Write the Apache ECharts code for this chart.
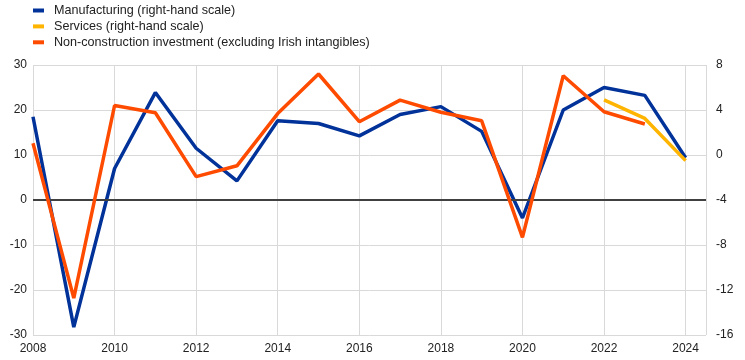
<!DOCTYPE html>
<html>
<head>
<meta charset="utf-8">
<script src="https://cdn.jsdelivr.net/npm/echarts@6/dist/echarts.min.js"></script>
<style>html,body{margin:0;padding:0;background:#fff;}#c{width:745px;height:360px;}</style>
</head>
<body>
<div id="c"></div>
<script>
var years = [2008,2009,2010,2011,2012,2013,2014,2015,2016,2017,2018,2019,2020,2021,2022,2023,2024];
var manufacturing = [3.4,-15.3,-1.2,5.55,0.6,-2.3,3.05,2.8,1.7,3.6,4.3,2.1,-5.6,4.0,6.0,5.3,-0.25];
var services = [null,null,null,null,null,null,null,null,null,null,null,null,null,null,4.9,3.25,-0.5];
var investment = [12.6,-21.8,21.0,19.4,5.2,7.6,19.2,28.0,17.4,22.2,19.5,17.6,-8.3,27.6,19.6,16.9,null];
var names = ['Manufacturing (right-hand scale)','Services (right-hand scale)','Non-construction investment (excluding Irish intangibles)'];
var leftTicks = [-30,-20,-10,0,10,20,30];
var rightTicks = [-16,-12,-8,-4,0,4,8];

function pairs(arr){ var out=[]; for(var i=0;i<years.length;i++){ if(arr[i]!==null && arr[i]!==undefined) out.push([years[i],arr[i]]); } return out; }

var chart = echarts.init(document.getElementById('c'), null, {renderer:'canvas'});
var font = 'Arial, "Liberation Sans", sans-serif';
chart.setOption({
  animation:false,
  textStyle:{fontFamily:font},
  legend:{
    orient:'vertical', left:33, top:4, padding:0, itemWidth:11, itemHeight:4, itemGap:2.9,
    icon:'rect',
    textStyle:{fontSize:12.6, color:'#222', fontFamily:font, padding:[0,0,0,5]},
    data:names
  },
  grid:{left:33, right:39, top:65, bottom:25, containLabel:false},
  xAxis:{
    type:'value', min:2008, max:2024.5, interval:2,
    axisLine:{show:false}, axisTick:{show:false},
    axisLabel:{fontSize:12, color:'#222', margin:8, showMaxLabel:false,
      formatter:function(v){ return (v%2===0)? String(v):''; }},
    splitLine:{show:true, lineStyle:{color:'#d9d9d9', width:1}}
  },
  yAxis:[
    {type:'value', min:leftTicks[0], max:leftTicks[leftTicks.length-1], interval:10,
     axisLine:{show:false}, axisTick:{show:false},
     axisLabel:{fontSize:12, color:'#222', margin:6},
     splitLine:{show:true, lineStyle:{color:'#d9d9d9', width:1}}},
    {type:'value', position:'right', min:rightTicks[0], max:rightTicks[rightTicks.length-1], interval:4,
     axisLine:{show:false}, axisTick:{show:false},
     axisLabel:{fontSize:12, color:'#222', margin:10},
     splitLine:{show:false}}
  ],
  series:[
    {type:'line', name:'zero', data:[], yAxisIndex:0, z:1, silent:true,
     markLine:{silent:true, symbol:'none', label:{show:false},
       lineStyle:{color:'#404040', width:2, type:'solid'},
       data:[{yAxis:0}]}},
    {type:'line', name:names[0], yAxisIndex:1, data:pairs(manufacturing), showSymbol:false, symbol:'none',
     lineStyle:{color:'#003299', width:3.5}, itemStyle:{color:'#003299'}, z:3},
    {type:'line', name:names[1], yAxisIndex:1, data:pairs(services), showSymbol:false, symbol:'none',
     lineStyle:{color:'#ffb400', width:3.5}, itemStyle:{color:'#ffb400'}, z:4},
    {type:'line', name:names[2], yAxisIndex:0, data:pairs(investment), showSymbol:false, symbol:'none',
     lineStyle:{color:'#ff4b00', width:3.5}, itemStyle:{color:'#ff4b00'}, z:5}
  ]
});
</script>
</body>
</html>
